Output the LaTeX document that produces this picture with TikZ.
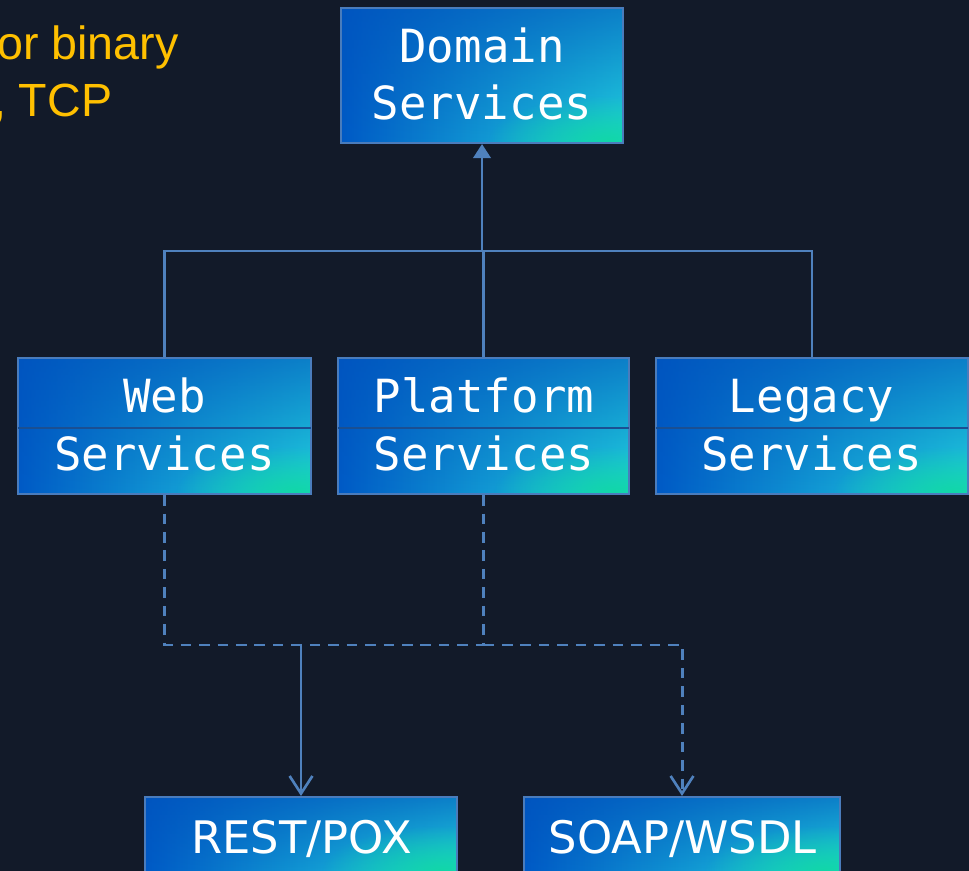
\documentclass[tikz,border=0pt]{standalone}
\usepackage{fontspec}
\usetikzlibrary{arrows.meta,fadings}
\newfontfamily\monofont{DejaVu Sans Mono}
\newfontfamily\boxsans{DejaVu Sans}
\newfontfamily\yellowfont{Liberation Sans}
\definecolor{bgc}{HTML}{121A29}
\definecolor{cA}{HTML}{005AC6}
\definecolor{cB}{HTML}{0A8CE2}
\definecolor{cC}{HTML}{22D4E0}
\definecolor{cTop}{HTML}{0052BC}
\definecolor{glowc}{HTML}{10D8A2}
\definecolor{boxborder}{HTML}{4A7CBC}
\definecolor{divc}{HTML}{1A4F92}
\definecolor{linec}{HTML}{4F81BD}
\definecolor{yel}{HTML}{FFC000}
\tikzfading[name=glowfade, inner color=transparent!10, outer color=transparent!100]
\tikzset{
  svcbox/.style={draw=boxborder, line width=1.2pt, minimum width=#1, minimum height=2.72cm, inner sep=0pt,
    path picture={
      \shade[left color=cA, middle color=cB, right color=cC] (path picture bounding box.south west) rectangle (path picture bounding box.north east);
      \fill[cTop, path fading=south, opacity=0.65] (path picture bounding box.south west) rectangle (path picture bounding box.north east);
      \fill[glowc, path fading=glowfade] ([xshift=-0.3cm,yshift=0.05cm]path picture bounding box.south east) circle [x radius=2.4cm, y radius=0.9cm];
    }},
  monotxt/.style={text=white, font=\monofont\fontsize{26}{30}\selectfont, inner sep=0pt, anchor=base},
  sanstxt/.style={text=white, font=\boxsans\fontsize{25.5}{30}\selectfont, inner sep=0pt, anchor=base},
  yeltxt/.style={text=yel, font=\yellowfont\fontsize{26.5}{30}\selectfont, inner sep=0pt, anchor=base east},
  conn/.style={draw=linec, line width=1.3pt},
  dconn/.style={draw=linec, line width=1.7pt, dash pattern=on 6pt off 4.5pt},
  divline/.style={draw=divc, line width=0.8pt},
  openarrow/.style={-{Straight Barb[length=10pt,width=13pt,line width=1.5pt]}},
  filledarrow/.style={-{Triangle[length=8pt,width=10pt]}}
}
\begin{document}
\begin{tikzpicture}
\path[use as bounding box, fill=bgc] (0,0) rectangle (19.38,-17.42);

% yellow text (cut off at left, as in the reference)
\node[yeltxt] (y1) at (3.58,-1.20) {or binary};
\node[yeltxt] (y2) at (2.25,-2.34) {, TCP};

% boxes
\node[svcbox=5.64cm, minimum height=2.70cm] (dom) at (9.64,-1.51) {};
\node[svcbox=5.86cm] (web) at (3.29,-8.52) {};
\node[svcbox=5.82cm] (plat) at (9.67,-8.52) {};
\node[svcbox=6.24cm] (leg) at (16.24,-8.52) {};
\node[svcbox=6.24cm, minimum height=1.52cm] (rest) at (6.02,-16.70) {};
\node[svcbox=6.32cm, minimum height=1.52cm] (soap) at (13.64,-16.70) {};

% dividers
\draw[divline] ([yshift=-0.04cm,xshift=0.02cm]web.west) -- ([yshift=-0.04cm,xshift=-0.02cm]web.east);
\draw[divline] ([yshift=-0.04cm,xshift=0.02cm]plat.west) -- ([yshift=-0.04cm,xshift=-0.02cm]plat.east);
\draw[divline] ([yshift=-0.04cm,xshift=0.02cm]leg.west) -- ([yshift=-0.04cm,xshift=-0.02cm]leg.east);

% texts
\node[monotxt] (domT1) at (9.64,-1.26) {Domain};
\node[monotxt] (domT2) at (9.64,-2.40) {Services};
\node[monotxt] (webT1) at (3.29,-8.26) {Web};
\node[monotxt] (webT2) at (3.29,-9.40) {Services};
\node[monotxt] (platT1) at (9.68,-8.26) {Platform};
\node[monotxt] (platT2) at (9.68,-9.40) {Services};
\node[monotxt] (legT1) at (16.23,-8.26) {Legacy};
\node[monotxt] (legT2) at (16.23,-9.40) {Services};
\node[sanstxt] (restT) at (6.03,-17.06) {REST/POX};
\node[sanstxt] (soapT) at (13.65,-17.06) {SOAP/WSDL};

% tree connectors
\coordinate (jt) at (9.64,-5.02);
\draw[conn] (web.north) |- (jt) -| (leg.north);
\draw[conn] (plat.north) -- (plat.north |- jt);
\draw[conn, filledarrow] (jt) -- (dom.south);

% dashed connectors
\coordinate (jd) at (9.67,-12.90);
\draw[dconn] (web.south) |- (jd);
\draw[dconn] (plat.south) -- (jd);
\draw[dconn, openarrow] (jd) -| (soap.north);
\draw[conn, openarrow] (rest.north |- jd) -- (rest.north);
\end{tikzpicture}
\end{document}
